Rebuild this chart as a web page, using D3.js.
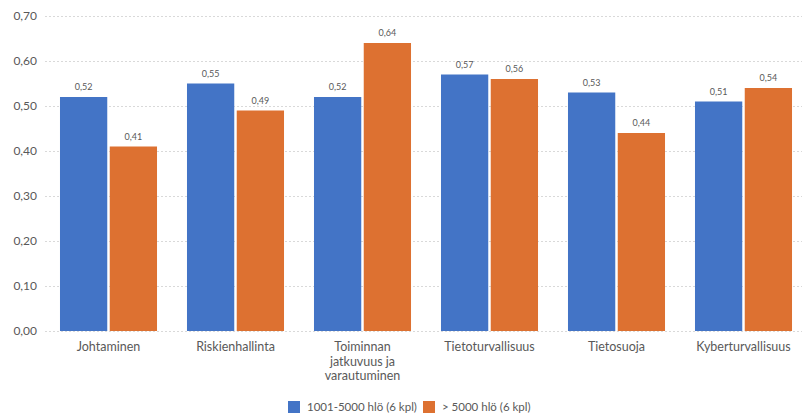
<!DOCTYPE html>
<html>
<head>
<meta charset="utf-8">
<script src="https://cdn.jsdelivr.net/npm/d3@7"></script>
<style>
  html, body { margin: 0; padding: 0; background: #fff; }
  svg { display: block; font-family: Lato, "Open Sans", sans-serif; }
</style>
</head>
<body>
<svg id="chart" width="802" height="414"></svg>
<script>
// Categories (multi-line labels split on "\n")
const categories = [
  "Johtaminen",
  "Riskienhallinta",
  "Toiminnan\njatkuvuus ja\nvarautuminen",
  "Tietoturvallisuus",
  "Tietosuoja",
  "Kyberturvallisuus"
];
const seriesNames = ["1001-5000 hlö (6 kpl)", "> 5000 hlö (6 kpl)"];
const seriesSmall = [0.52, 0.55, 0.52, 0.57, 0.53, 0.51];
const seriesLarge = [0.41, 0.49, 0.64, 0.56, 0.44, 0.54];
const yTicks = [0, 0.1, 0.2, 0.3, 0.4, 0.5, 0.6, 0.7];
const colors = ["#4374c6", "#dd7131"];

const svg = d3.select("#chart");
const fmt = v => d3.format(".2f")(v).replace(".", ",");

const y = d3.scaleLinear().domain([0, 0.7]).range([331, 16]);
const x0 = d3.scaleBand().domain(categories).range([45, 807])
  .paddingInner(0.236).paddingOuter(0.118);
const x1 = d3.scaleBand().domain(seriesNames).range([0, x0.bandwidth()])
  .paddingInner(0.05);

// Horizontal dotted gridlines with axis labels
const yAxis = d3.axisLeft(y).tickValues(yTicks).tickFormat(fmt)
  .tickSize(-(802 - 45)).tickPadding(8);
const gy = svg.append("g").attr("transform", "translate(45,0)").call(yAxis);
gy.select(".domain").remove();
gy.selectAll(".tick line")
  .attr("stroke", "#d9d9d9").attr("stroke-width", 1).attr("stroke-dasharray", "2,2");
gy.selectAll(".tick text")
  .attr("fill", "#595959").attr("font-size", 12).attr("font-family", "Lato, sans-serif");

// Bars
const rows = categories.map((c, i) => ({ cat: c, vals: [seriesSmall[i], seriesLarge[i]] }));
const groups = svg.append("g").selectAll("g").data(rows).join("g")
  .attr("transform", d => `translate(${x0(d.cat)},0)`);

groups.selectAll("rect")
  .data(d => d.vals.map((v, j) => ({ v, s: seriesNames[j], j })))
  .join("rect")
  .attr("x", d => x1(d.s))
  .attr("y", d => y(d.v))
  .attr("width", x1.bandwidth())
  .attr("height", d => y(0) - y(d.v))
  .attr("fill", d => colors[d.j]);

groups.selectAll("text.val")
  .data(d => d.vals.map((v, j) => ({ v, s: seriesNames[j] })))
  .join("text")
  .attr("class", "val")
  .attr("x", d => x1(d.s) + x1.bandwidth() / 2)
  .attr("y", d => y(d.v) - 7)
  .attr("text-anchor", "middle")
  .attr("font-size", 9)
  .attr("fill", "#595959")
  .text(d => fmt(d.v));

// Category labels
const xAxis = svg.append("g");
categories.forEach(c => {
  const t = xAxis.append("text")
    .attr("x", x0(c) + x0.bandwidth() / 2)
    .attr("y", 351)
    .attr("text-anchor", "middle")
    .attr("font-size", 12.5)
    .attr("fill", "#595959");
  c.split("\n").forEach((line, i) => {
    t.append("tspan").attr("x", x0(c) + x0.bandwidth() / 2)
      .attr("dy", i === 0 ? 0 : 14.5).text(line);
  });
});

// Legend
const legendItems = [
  { name: seriesNames[0], color: colors[0], x: 288 },
  { name: seriesNames[1], color: colors[1], x: 423 }
];
const lg = svg.append("g");
legendItems.forEach(d => {
  lg.append("rect").attr("x", d.x).attr("y", 401).attr("width", 12).attr("height", 12)
    .attr("fill", d.color);
  lg.append("text").attr("x", d.x + 19).attr("y", 411)
    .attr("font-size", 11.5).attr("fill", "#595959").text(d.name);
});
</script>
</body>
</html>
